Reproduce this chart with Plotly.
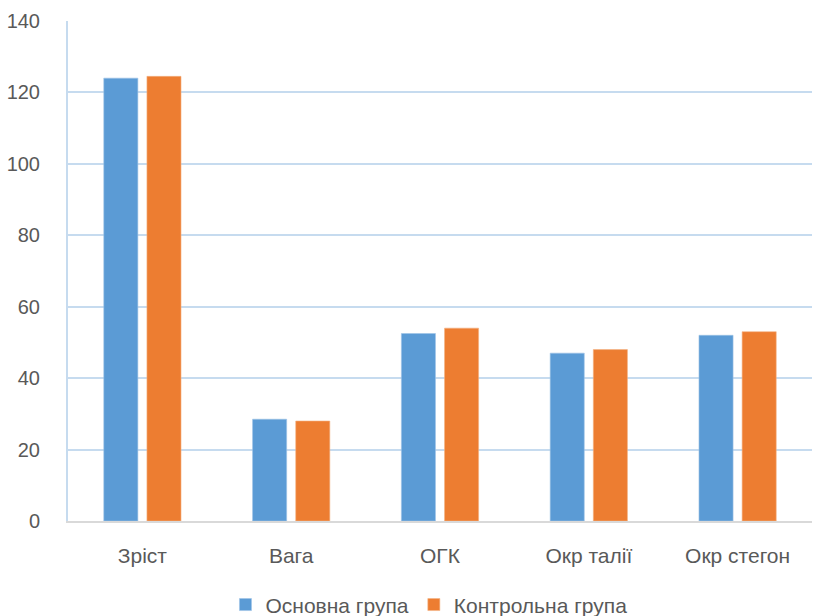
import plotly.graph_objects as go

categories = ["Зріст", "Вага", "ОГК", "Окр талії", "Окр стегон"]
main_group = [124, 28.5, 52.5, 47, 52]
control_group = [124.5, 28, 54, 48, 53]
series_names = ["Основна група", "Контрольна група"]
y_ticks = [0, 20, 40, 60, 80, 100, 120, 140]

FONT = "Liberation Sans, Arial, sans-serif"
TEXT = "#595959"

fig = go.Figure()
fig.add_trace(go.Bar(x=categories, y=main_group, name=series_names[0],
                     marker=dict(color="#5B9BD5", line=dict(color="#9DC3E6", width=0.6))))
fig.add_trace(go.Bar(x=categories, y=control_group, name=series_names[1],
                     marker=dict(color="#ED7D31", line=dict(color="#F4B183", width=0.6))))

fig.update_layout(
    width=814, height=616,
    margin=dict(l=68, r=2, t=21, b=95),
    paper_bgcolor="white", plot_bgcolor="white",
    barmode="group", bargap=0.42, bargroupgap=0.21,
    font=dict(family=FONT, size=19, color=TEXT),
    showlegend=True,
    legend=dict(orientation="h", x=0.527, xanchor="center", xref="container",
                y=0.018, yanchor="middle", yref="container",
                font=dict(size=21, color=TEXT), traceorder="normal",
                tracegroupgap=0, itemwidth=30),
    xaxis=dict(showline=True, linecolor="#D9D9D9", linewidth=2, ticks="",
               automargin=False, ticklabelstandoff=15,
               tickfont=dict(size=21, color=TEXT)),
    yaxis=dict(range=[0, 140], tickvals=y_ticks, showgrid=True, gridcolor="#C6DBEF",
               gridwidth=2, zeroline=False, showline=True, linecolor="#C6DBEF",
               linewidth=2, ticks="", ticklabelstandoff=22, automargin=False,
               tickfont=dict(size=20, color=TEXT)),
)

fig.write_html("out.html")
